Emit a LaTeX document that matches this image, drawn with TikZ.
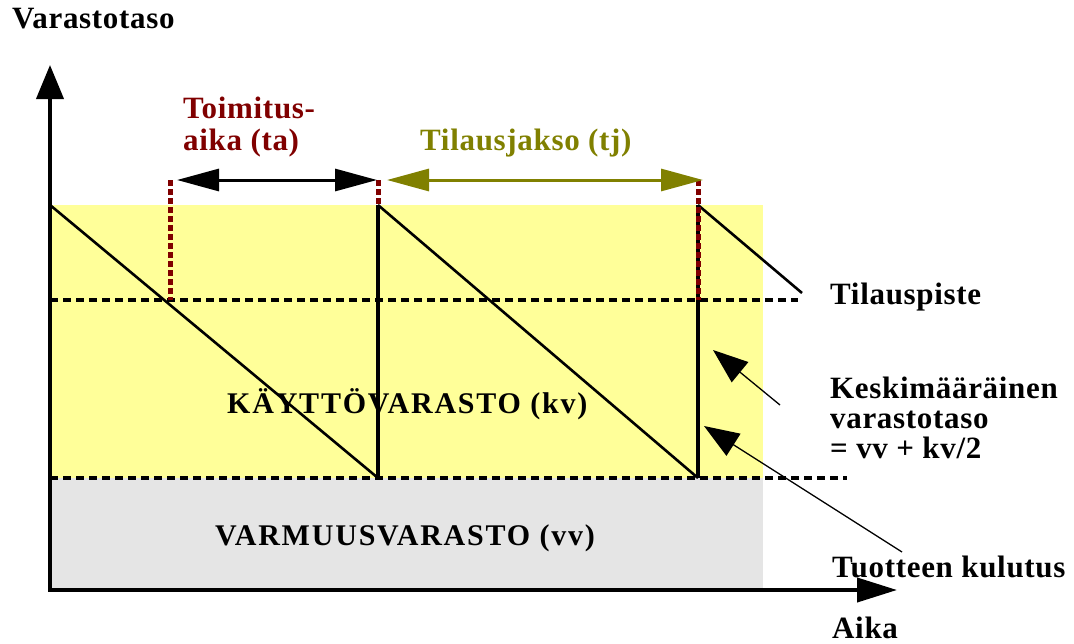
\documentclass[tikz,border=0pt]{standalone}
\usepackage{fontspec}
\setmainfont{Liberation Serif}
\usetikzlibrary{arrows.meta}
\definecolor{kvyellow}{HTML}{FFFF99}
\definecolor{vvgray}{HTML}{E5E5E5}
\definecolor{darkred}{HTML}{800000}
\definecolor{olivec}{HTML}{808000}
\tikzset{
  lbl/.style={anchor=base west, inner sep=0pt, font=\fontsize{31}{34}\selectfont\bfseries\addfontfeatures{LetterSpace=2.2}},
  zonelbl/.style={anchor=base west, inner sep=0pt, font=\fontsize{30}{33}\selectfont\bfseries\addfontfeatures{LetterSpace=6}},
  axisline/.style={line width=4pt, line cap=rect},
  saw/.style={line width=2.6pt},
  refill/.style={line width=4pt},
  levelline/.style={line width=3.5pt, dash pattern=on 8pt off 5pt},
  markline/.style={line width=5pt, darkred, dash pattern=on 6pt off 3pt},
  spanarrow/.style={line width=3pt, {Triangle[length=42pt,width=22pt]}-{Triangle[length=42pt,width=22pt]}},
  leader/.style={line width=1.3pt, -{Triangle[length=35pt,width=26pt]}},
}
\begin{document}
\begin{tikzpicture}[x=1pt,y=-1pt]
\useasboundingbox (0,0) rectangle (1074,643);
% zones
\fill[kvyellow] (50,205) rectangle (763,478);
\fill[vvgray] (50,478) rectangle (763,590);
% coordinates
\coordinate (o) at (50,590);
\coordinate (ytip) at (50,65);
\coordinate (xtip) at (897,590);
\coordinate (s0) at (50,205);
\coordinate (b1) at (378,478);
\coordinate (t1) at (378,205);
\coordinate (b2) at (698,478);
\coordinate (t2) at (698,205);
\coordinate (e3) at (802,293);
\coordinate (rp0) at (50,300);
\coordinate (rp1) at (798,300);
\coordinate (ss0) at (50,478);
\coordinate (ss1) at (847,478);
\coordinate (m0t) at (170,180);
\coordinate (m0b) at (170,300);
\coordinate (m1t) at (378,180);
\coordinate (m2t) at (698,180);
\coordinate (m2b) at (698,300);
\coordinate (a1l) at (177,180);
\coordinate (a1r) at (377,180);
\coordinate (a2l) at (387,180);
\coordinate (a2r) at (703,180);
% level lines
\draw[levelline] (rp0) -- (rp1);
\draw[levelline] (ss0) -- (ss1);
% sawtooth
\draw[saw] (s0) -- (b1);
\draw[refill] (b1) -- (t1);
\draw[saw] (t1) -- (b2);
\draw[refill] (b2) -- (t2);
\draw[saw] (t2) -- (e3);
% order markers
\draw[markline] (m0t) -- (m0b);
\draw[markline] (m1t) -- (t1);
\draw[markline] (m2t) -- (m2b);
% span arrows
\draw[spanarrow, black] (a1l) -- (a1r);
\draw[spanarrow, olivec] (a2l) -- (a2r);
% axes
\draw[axisline, -{Triangle[length=34pt,width=27pt]}] (o) -- (ytip);
\draw[axisline, -{Triangle[length=40pt,width=24pt]}] (o) -- (xtip);
% labels
\node[lbl] (ylab) at (12,28) {Varastotaso};
\node[lbl] (xlab) at (832,638) {Aika};
\node[lbl, darkred] (ta1) at (183,118) {Toimitus-};
\node[lbl, darkred] (ta2) at (183,150) {aika (ta)};
\node[lbl, olivec] (tj) at (420,150) {Tilausjakso (tj)};
\node[lbl] (tp) at (830,304) {Tilauspiste};
\node[lbl] (k1) at (830,398) {Keskimääräinen};
\node[lbl] (k2) at (830,428) {varastotaso};
\node[lbl] (k3) at (830,458) {= vv + kv/2};
\node[lbl] (tk) at (832,577) {Tuotteen kulutus};
\node[zonelbl] (kv) at (227,413) {KÄYTTÖVARASTO (kv)};
\node[zonelbl] (vv) at (215,545) {VARMUUSVARASTO (vv)};
% leaders
\coordinate (l1s) at (780,405);
\coordinate (l1e) at (713,350);
\coordinate (l2s) at (902,552);
\coordinate (l2e) at (704,426);
\draw[leader] (l1s) -- (l1e);
\draw[leader] (l2s) -- (l2e);
\end{tikzpicture}
\end{document}
